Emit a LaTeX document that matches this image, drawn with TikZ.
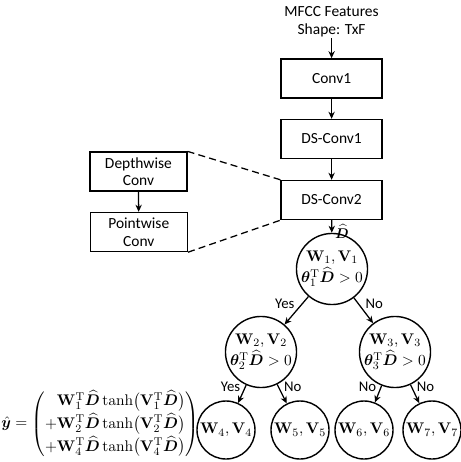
\documentclass[tikz,border=0pt]{standalone}
\usepackage{amsmath,bm}
\usepackage[no-math]{fontspec}
\setmainfont{Carlito}
\usepackage{xcolor}
\definecolor{Ink}{HTML}{000000}
\usetikzlibrary{arrows.meta, positioning}

\newcommand{\Dhat}{\widehat{\bm{D}}}
\newcommand{\WV}[1]{\mathbf{W}_{#1},\mathbf{V}_{#1}}
\newcommand{\cond}[1]{\boldsymbol{\theta}_{#1}^{\mathrm{T}}\Dhat>0}

\begin{document}
\begin{tikzpicture}[>={Stealth[length=5pt,width=4.5pt]},
  font=\fontsize{11}{12.5}\selectfont,
  blk/.style={rectangle, draw=Ink, line width=1pt, minimum width=2.525cm,
              minimum height=0.975cm, align=center},
  tnode/.style={circle, draw=Ink, line width=1pt, minimum size=1.45cm,
                inner sep=0pt, align=center, font=\fontsize{11}{15}\selectfont},
  arr/.style={->, line width=0.9pt, color=Ink},
  link/.style={line width=0.9pt, color=Ink, dash pattern=on 5pt off 3pt},
  lbl/.style={font=\fontsize{10.5}{12}\selectfont, inner sep=1pt}
]
\useasboundingbox (0,0) rectangle (11.525,-11.55);

%% ---- Input + main stack ----
\node[inner sep=1pt, align=center] (input) at (8.29,-0.54) {MFCC Features\\Shape: TxF};
\node[blk] (conv1)  at (8.29,-1.96) {Conv1};
\node[blk] (dsconv1) at (8.29,-3.475) {DS-Conv1};
\node[blk] (dsconv2) at (8.29,-5.0) {DS-Conv2};

%% ---- Expanded DS-Conv block ----
\node[blk, minimum width=2.425cm] (depth) at (3.46,-4.29) {Depthwise\\Conv};
\node[blk, minimum width=2.425cm] (point) at (3.47,-5.8) {Pointwise\\Conv};

%% ---- Tree ----
\node[tnode] (n1) at (8.3,-6.725) {$\WV{1}$\\$\cond{1}$};
\node[tnode] (n2) at (6.525,-8.8) {$\WV{2}$\\$\cond{2}$};
\node[tnode] (n3) at (9.875,-8.8) {$\WV{3}$\\$\cond{3}$};
\node[tnode] (n4) at (5.65,-10.75) {$\WV{4}$};
\node[tnode] (n5) at (7.5,-10.75) {$\WV{5}$};
\node[tnode] (n6) at (9.1,-10.75) {$\WV{6}$};
\node[tnode] (n7) at (10.8,-10.75) {$\WV{7}$};

%% ---- Output expression ----
\node (yhat) at (2.5,-10.6) {\renewcommand{\arraystretch}{1.3}$\hat{\bm{y}}=\left(\begin{array}{@{}r@{}}
  \mathbf{W}_1^{\mathrm{T}}\Dhat\tanh\bigl(\mathbf{V}_1^{\mathrm{T}}\Dhat\bigr)\\
  +\mathbf{W}_2^{\mathrm{T}}\Dhat\tanh\bigl(\mathbf{V}_2^{\mathrm{T}}\Dhat\bigr)\\
  +\mathbf{W}_4^{\mathrm{T}}\Dhat\tanh\bigl(\mathbf{V}_4^{\mathrm{T}}\Dhat\bigr)
  \end{array}\right)$};

%% ---- Arrows ----
\draw[arr] (input) -- (conv1);
\draw[arr] (conv1) -- (dsconv1);
\draw[arr] (dsconv1) -- (dsconv2);
\draw[arr] (depth) -- (point);
\draw[arr] (dsconv2) -- node[anchor=west, pos=0.5, yshift=-3.5pt, inner sep=2pt,
  font=\fontsize{10}{12}\selectfont]{$\Dhat$} (n1);
\draw[arr] (n1) -- node[lbl, above left]{Yes} (n2);
\draw[arr] (n1) -- node[lbl, above right]{No} (n3);
\draw[arr] (n2) -- node[lbl, above left]{Yes} (n4);
\draw[arr] (n2) -- node[lbl, above right]{No} (n5);
\draw[arr] (n3) -- node[lbl, above left]{No} (n6);
\draw[arr] (n3) -- node[lbl, above right]{No} (n7);

% dashed zoom lines from the expanded block to DS-Conv2
\draw[link] (depth.north east) -- (dsconv2.north west);
\draw[link] (point.south east) -- (dsconv2.south west);

\end{tikzpicture}
\end{document}
